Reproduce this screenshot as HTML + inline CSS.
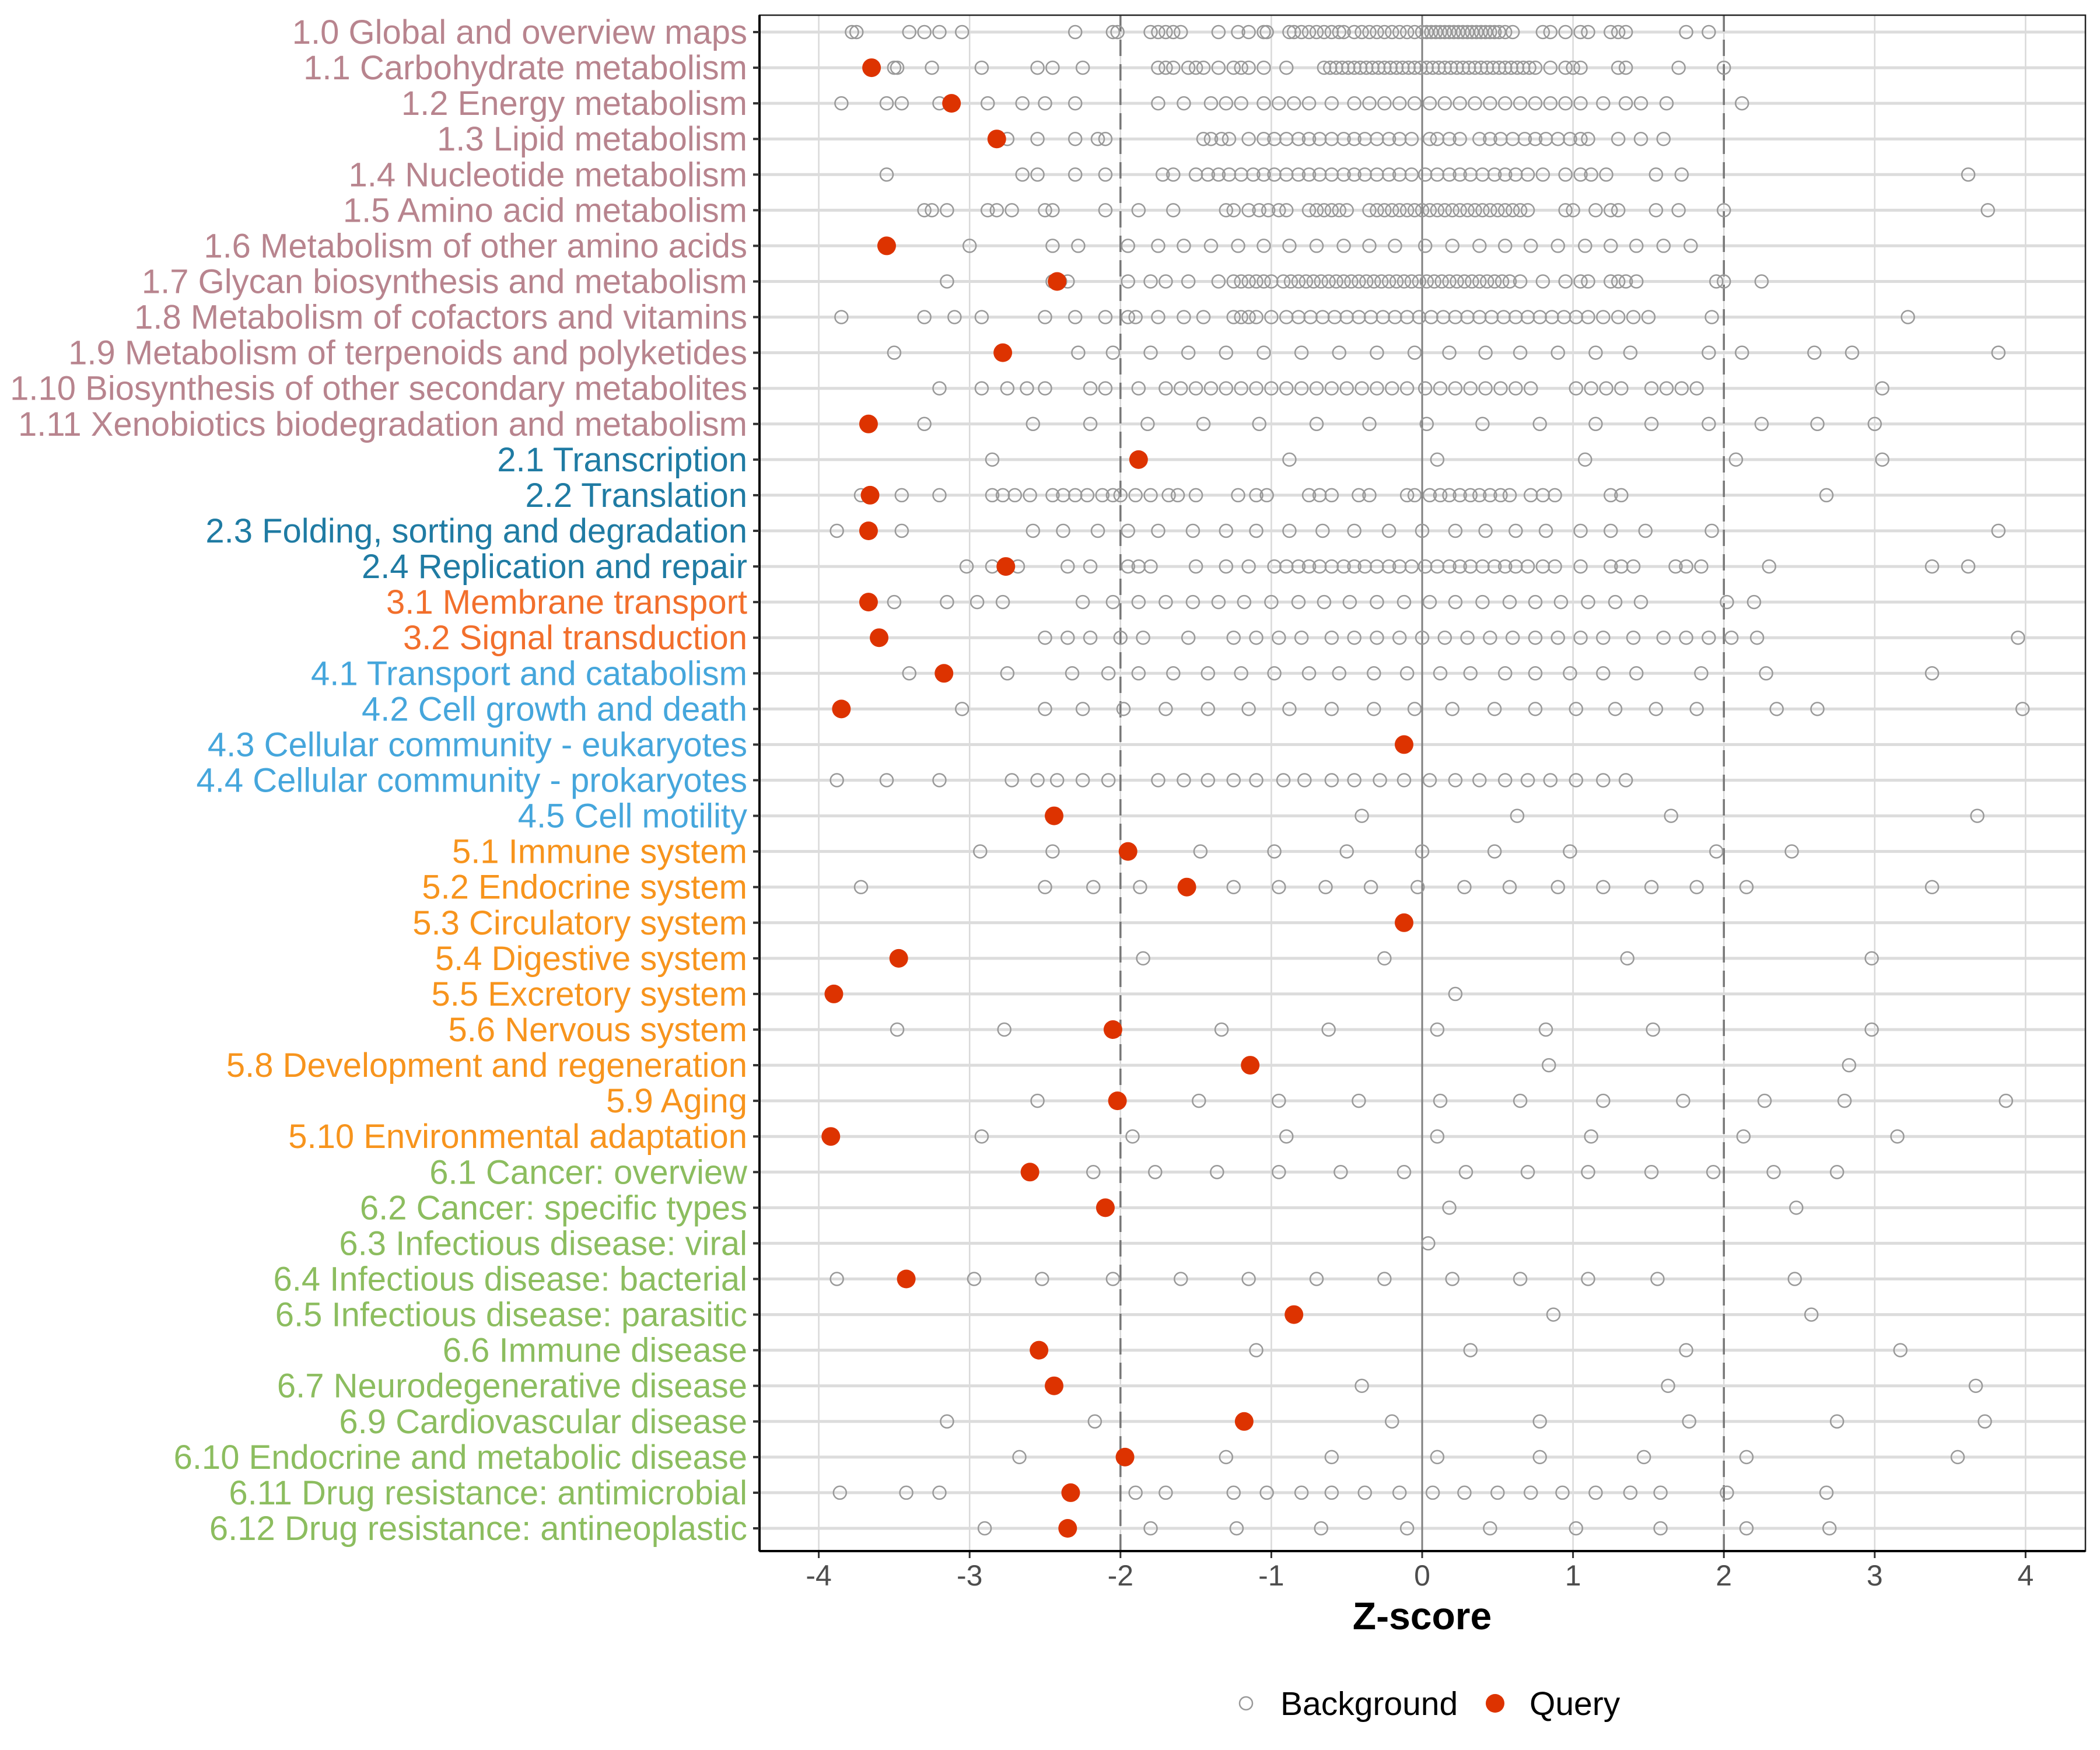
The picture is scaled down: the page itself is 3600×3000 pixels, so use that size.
<!DOCTYPE html>
<html><head><meta charset="utf-8">
<style>
html,body{margin:0;padding:0;background:#fff;}
svg{display:block;font-family:"Liberation Sans",Arial,sans-serif;}
</style></head>
<body>
<svg id="chart" width="3600" height="3000" viewBox="0 0 3600 3000" xmlns="http://www.w3.org/2000/svg">
<rect x="0" y="0" width="3600" height="3000" fill="#fff"/>
<g id="grid"></g>
<g id="marks"></g>
<g id="yaxis"></g>
<g id="xaxis"></g>
<text x="2438" y="2793" text-anchor="middle" font-size="66" font-weight="bold" fill="#000">Z-score</text>
<g>
 <g>
  <circle cx="2136" cy="2920" r="11" fill="none" stroke="#999" stroke-width="2.5"/>
  <text x="2195" y="2940" font-size="57" fill="#000">Background</text>
 </g>
 <g>
  <circle cx="2563" cy="2920" r="16" fill="#dd3300"/>
  <text x="2622" y="2940" font-size="57" fill="#000">Query</text>
 </g>
</g>
</svg>
<script>
const categories = ["1.0 Global and overview maps","1.1 Carbohydrate metabolism","1.2 Energy metabolism","1.3 Lipid metabolism","1.4 Nucleotide metabolism","1.5 Amino acid metabolism","1.6 Metabolism of other amino acids","1.7 Glycan biosynthesis and metabolism","1.8 Metabolism of cofactors and vitamins","1.9 Metabolism of terpenoids and polyketides","1.10 Biosynthesis of other secondary metabolites","1.11 Xenobiotics biodegradation and metabolism","2.1 Transcription","2.2 Translation","2.3 Folding, sorting and degradation","2.4 Replication and repair","3.1 Membrane transport","3.2 Signal transduction","4.1 Transport and catabolism","4.2 Cell growth and death","4.3 Cellular community - eukaryotes","4.4 Cellular community - prokaryotes","4.5 Cell motility","5.1 Immune system","5.2 Endocrine system","5.3 Circulatory system","5.4 Digestive system","5.5 Excretory system","5.6 Nervous system","5.8 Development and regeneration","5.9 Aging","5.10 Environmental adaptation","6.1 Cancer: overview","6.2 Cancer: specific types","6.3 Infectious disease: viral","6.4 Infectious disease: bacterial","6.5 Infectious disease: parasitic","6.6 Immune disease","6.7 Neurodegenerative disease","6.9 Cardiovascular disease","6.10 Endocrine and metabolic disease","6.11 Drug resistance: antimicrobial","6.12 Drug resistance: antineoplastic"];
const queryValues = [null,-3.65,-3.12,-2.82,null,null,-3.55,-2.42,null,-2.78,null,-3.67,-1.88,-3.66,-3.67,-2.76,-3.67,-3.6,-3.17,-3.85,-0.12,null,-2.44,-1.95,-1.56,-0.12,-3.47,-3.9,-2.05,-1.14,-2.02,-3.92,-2.6,-2.1,null,-3.42,-0.85,-2.54,-2.44,-1.18,-1.97,-2.33,-2.35];
const backgroundValues = [
[-3.78,-3.75,-3.4,-3.3,-3.2,-3.05,-2.3,-2.05,-2.02,-1.8,-1.75,-1.7,-1.65,-1.6,-1.35,-1.22,-1.15,-1.05,-1.03,-0.88,-0.85,-0.8,-0.75,-0.7,-0.65,-0.6,-0.55,-0.52,-0.45,-0.4,-0.35,-0.3,-0.25,-0.2,-0.15,-0.1,-0.05,0,0.03,0.06,0.09,0.12,0.15,0.18,0.21,0.24,0.27,0.3,0.33,0.36,0.39,0.42,0.45,0.48,0.51,0.55,0.6,0.8,0.85,0.95,1.05,1.1,1.25,1.3,1.35,1.75,1.9],
[-3.5,-3.48,-3.25,-2.92,-2.55,-2.45,-2.25,-1.75,-1.7,-1.65,-1.55,-1.5,-1.45,-1.35,-1.25,-1.2,-1.15,-1.05,-0.9,-0.65,-0.61,-0.57,-0.53,-0.49,-0.45,-0.41,-0.37,-0.33,-0.29,-0.25,-0.21,-0.17,-0.13,-0.09,-0.05,-0.01,0.03,0.07,0.11,0.15,0.19,0.23,0.27,0.31,0.35,0.39,0.43,0.47,0.51,0.55,0.59,0.63,0.67,0.71,0.75,0.85,0.95,1.0,1.05,1.3,1.35,1.7,2.0],
[-3.85,-3.55,-3.45,-3.2,-2.88,-2.65,-2.5,-2.3,-1.75,-1.58,-1.4,-1.3,-1.2,-1.05,-0.95,-0.85,-0.75,-0.6,-0.45,-0.35,-0.25,-0.15,-0.05,0.05,0.15,0.25,0.35,0.45,0.55,0.65,0.75,0.85,0.95,1.05,1.2,1.35,1.45,1.62,2.12],
[-2.75,-2.55,-2.3,-2.15,-2.1,-1.45,-1.4,-1.33,-1.28,-1.15,-1.05,-0.98,-0.9,-0.82,-0.75,-0.68,-0.6,-0.52,-0.45,-0.38,-0.3,-0.22,-0.15,-0.07,0.05,0.1,0.18,0.25,0.38,0.45,0.52,0.6,0.68,0.75,0.82,0.9,0.98,1.05,1.1,1.3,1.45,1.6],
[-3.55,-2.65,-2.55,-2.3,-2.1,-1.72,-1.65,-1.5,-1.42,-1.35,-1.28,-1.2,-1.12,-1.05,-0.98,-0.9,-0.82,-0.75,-0.68,-0.6,-0.52,-0.45,-0.38,-0.3,-0.22,-0.15,-0.07,0.02,0.1,0.18,0.25,0.32,0.4,0.48,0.55,0.62,0.7,0.8,0.95,1.05,1.12,1.22,1.55,1.72,3.62],
[-3.3,-3.25,-3.15,-2.88,-2.82,-2.72,-2.5,-2.45,-2.1,-1.88,-1.65,-1.3,-1.25,-1.15,-1.08,-1.02,-0.95,-0.9,-0.75,-0.7,-0.65,-0.6,-0.55,-0.5,-0.35,-0.3,-0.25,-0.2,-0.15,-0.1,-0.05,0,0.05,0.1,0.15,0.2,0.25,0.3,0.35,0.4,0.45,0.5,0.55,0.6,0.65,0.7,0.95,1.0,1.15,1.25,1.3,1.55,1.7,2.0,3.75],
[-3.0,-2.45,-2.28,-1.95,-1.75,-1.58,-1.4,-1.22,-1.05,-0.88,-0.7,-0.52,-0.35,-0.18,0.02,0.2,0.38,0.55,0.72,0.9,1.08,1.25,1.42,1.6,1.78],
[-3.15,-2.45,-2.4,-2.35,-1.95,-1.8,-1.7,-1.55,-1.35,-1.25,-1.2,-1.15,-1.1,-1.05,-1.0,-0.92,-0.87,-0.82,-0.77,-0.72,-0.67,-0.62,-0.57,-0.52,-0.47,-0.42,-0.37,-0.32,-0.27,-0.22,-0.17,-0.12,-0.07,-0.02,0.03,0.08,0.13,0.18,0.23,0.28,0.33,0.38,0.43,0.48,0.53,0.58,0.65,0.8,0.95,1.05,1.1,1.25,1.3,1.35,1.42,1.95,2.0,2.25],
[-3.85,-3.3,-3.1,-2.92,-2.5,-2.3,-2.1,-1.95,-1.9,-1.75,-1.58,-1.45,-1.25,-1.2,-1.15,-1.1,-1.0,-0.9,-0.82,-0.74,-0.66,-0.58,-0.5,-0.42,-0.34,-0.26,-0.18,-0.1,-0.02,0.06,0.14,0.22,0.3,0.38,0.46,0.54,0.62,0.7,0.78,0.86,0.94,1.02,1.1,1.2,1.3,1.4,1.5,1.92,3.22],
[-3.5,-2.28,-2.05,-1.8,-1.55,-1.3,-1.05,-0.8,-0.55,-0.3,-0.05,0.18,0.42,0.65,0.9,1.15,1.38,1.9,2.12,2.6,2.85,3.82],
[-3.2,-2.92,-2.75,-2.62,-2.5,-2.2,-2.1,-1.88,-1.7,-1.6,-1.5,-1.4,-1.3,-1.2,-1.1,-1.0,-0.9,-0.8,-0.7,-0.6,-0.5,-0.4,-0.3,-0.2,-0.1,0.02,0.12,0.22,0.32,0.42,0.52,0.62,0.72,1.02,1.12,1.22,1.32,1.52,1.62,1.72,1.82,3.05],
[-3.3,-2.58,-2.2,-1.82,-1.45,-1.08,-0.7,-0.35,0.03,0.4,0.78,1.15,1.52,1.9,2.25,2.62,3.0],
[-2.85,-0.88,0.1,1.08,2.08,3.05],
[-3.72,-3.45,-3.2,-2.85,-2.78,-2.7,-2.6,-2.45,-2.38,-2.3,-2.22,-2.12,-2.05,-2.0,-1.9,-1.8,-1.68,-1.62,-1.5,-1.22,-1.1,-1.03,-0.75,-0.68,-0.6,-0.42,-0.35,-0.1,-0.05,0.05,0.12,0.18,0.25,0.32,0.38,0.45,0.52,0.58,0.72,0.8,0.88,1.25,1.32,2.68],
[-3.88,-3.45,-2.58,-2.38,-2.15,-1.95,-1.75,-1.52,-1.3,-1.1,-0.88,-0.66,-0.45,-0.22,0.0,0.22,0.42,0.62,0.82,1.05,1.25,1.48,1.92,3.82],
[-3.02,-2.85,-2.68,-2.35,-2.2,-1.95,-1.88,-1.8,-1.5,-1.3,-1.15,-0.98,-0.9,-0.82,-0.75,-0.68,-0.6,-0.52,-0.45,-0.38,-0.3,-0.22,-0.15,-0.07,0.02,0.1,0.18,0.25,0.32,0.4,0.48,0.55,0.62,0.7,0.8,0.88,1.05,1.25,1.32,1.4,1.68,1.75,1.85,2.3,3.38,3.62],
[-3.5,-3.15,-2.95,-2.78,-2.25,-2.05,-1.88,-1.7,-1.52,-1.35,-1.18,-1.0,-0.82,-0.65,-0.48,-0.3,-0.12,0.05,0.22,0.4,0.58,0.75,0.92,1.1,1.28,1.45,2.02,2.2],
[-2.5,-2.35,-2.2,-2.0,-1.85,-1.55,-1.25,-1.1,-0.95,-0.8,-0.6,-0.45,-0.3,-0.15,0.0,0.15,0.3,0.45,0.6,0.75,0.9,1.05,1.2,1.4,1.6,1.75,1.9,2.05,2.22,3.95],
[-3.4,-2.75,-2.32,-2.08,-1.88,-1.65,-1.42,-1.2,-0.98,-0.75,-0.55,-0.32,-0.1,0.12,0.32,0.55,0.75,0.98,1.2,1.42,1.85,2.28,3.38],
[-3.05,-2.5,-2.25,-1.98,-1.7,-1.42,-1.15,-0.88,-0.6,-0.32,-0.05,0.2,0.48,0.75,1.02,1.28,1.55,1.82,2.35,2.62,3.98],
[],
[-3.88,-3.55,-3.2,-2.72,-2.55,-2.42,-2.25,-2.08,-1.75,-1.58,-1.42,-1.25,-1.1,-0.92,-0.78,-0.6,-0.45,-0.28,-0.12,0.05,0.22,0.38,0.55,0.7,0.85,1.02,1.2,1.35],
[-0.4,0.63,1.65,3.68],
[-2.93,-2.45,-1.47,-0.98,-0.5,0.0,0.48,0.98,1.95,2.45],
[-3.72,-2.5,-2.18,-1.87,-1.25,-0.95,-0.64,-0.34,-0.03,0.28,0.58,0.9,1.2,1.52,1.82,2.15,3.38],
[],
[-1.85,-0.25,1.36,2.98],
[0.22],
[-3.48,-2.77,-1.33,-0.62,0.1,0.82,1.53,2.98],
[0.84,2.83],
[-2.55,-1.48,-0.95,-0.42,0.12,0.65,1.2,1.73,2.27,2.8,3.87],
[-2.92,-1.92,-0.9,0.1,1.12,2.13,3.15],
[-2.18,-1.77,-1.36,-0.95,-0.54,-0.12,0.29,0.7,1.1,1.52,1.93,2.33,2.75],
[0.18,2.48],
[0.04],
[-3.88,-2.97,-2.52,-2.05,-1.6,-1.15,-0.7,-0.25,0.2,0.65,1.1,1.56,2.47],
[0.87,2.58],
[-1.1,0.32,1.75,3.17],
[-0.4,1.63,3.67],
[-3.15,-2.17,-0.2,0.78,1.77,2.75,3.73],
[-2.67,-1.3,-0.6,0.1,0.78,1.47,2.15,3.55],
[-3.86,-3.42,-3.2,-1.9,-1.7,-1.25,-1.03,-0.8,-0.6,-0.38,-0.15,0.07,0.28,0.5,0.72,0.93,1.15,1.38,1.58,2.02,2.68],
[-2.9,-1.8,-1.23,-0.67,-0.1,0.45,1.02,1.58,2.15,2.7]
];
const xTicks = [-4,-3,-2,-1,0,1,2,3,4];
const xTickLabels = ["-4","-3","-2","-1","0","1","2","3","4"];
const thresholds = [-2,2];
const groupColors = {"1":"#b8848e","2":"#1f7ba3","3":"#f26f2c","4":"#45a6dc","5":"#f7941d","6":"#8cbd5f"};

const NS="http://www.w3.org/2000/svg";
const L=1302,R=3575,T=26,B=2659;
const X0=2438,UNIT=258.6;
const Y0=55,DY=(2620-55)/42;
function xs(v){return X0+v*UNIT;}
function ys(i){return Y0+i*DY;}
function mk(tag,attrs,parent){const e=document.createElementNS(NS,tag);for(const k in attrs)e.setAttribute(k,attrs[k]);parent.appendChild(e);return e;}
const grid=document.getElementById('grid'),marks=document.getElementById('marks'),yaxis=document.getElementById('yaxis'),xaxis=document.getElementById('xaxis');

xTicks.forEach((t,i)=>{
  const g=mk('line',{x1:xs(t),x2:xs(t),y1:T,y2:B,stroke:'#d9d9d9','stroke-width':2.5},grid);
  
  
  const tk=mk('line',{x1:xs(t),x2:xs(t),y1:B,y2:B+12,stroke:'#333','stroke-width':3},xaxis);
  
  
  const tl=mk('text',{x:xs(t),y:2718,'text-anchor':'middle','font-size':50,fill:'#4d4d4d'},xaxis);
  tl.textContent=xTickLabels[i];
  
  
});
categories.forEach((c,i)=>{
  const g=mk('line',{x1:L,x2:R,y1:ys(i),y2:ys(i),stroke:'#dcdcdc','stroke-width':5},grid);
  
  
});
const zl=mk('line',{x1:xs(0),x2:xs(0),y1:T,y2:B,stroke:'#7f7f7f','stroke-width':3},grid);


thresholds.forEach(t=>{
  const d=mk('line',{x1:xs(t),x2:xs(t),y1:T,y2:B,stroke:'#777','stroke-width':3.5,'stroke-dasharray':'28,14'},grid);
  
  
});
categories.forEach((c,i)=>{
  (backgroundValues[i]||[]).forEach(v=>{
    const p=mk('circle',{cx:xs(v),cy:ys(i),r:11,fill:'none',stroke:'#999','stroke-width':2.5},marks);
    
    
  });
});
categories.forEach((c,i)=>{
  if(queryValues[i]!==null){
    const p=mk('circle',{cx:xs(queryValues[i]),cy:ys(i),r:16,fill:'#dd3300'},marks);
    
    
  }
});
const frame=mk('rect',{x:L,y:T,width:R-L,height:B-T,fill:'none',stroke:'#222','stroke-width':2.5},yaxis);


const ax=mk('line',{x1:L,x2:L,y1:T,y2:B,stroke:'#000','stroke-width':4},yaxis);


const bx=mk('line',{x1:L,x2:R,y1:B,y2:B,stroke:'#000','stroke-width':4},xaxis);


categories.forEach((c,i)=>{
  const tk=mk('line',{x1:L-11,x2:L,y1:ys(i),y2:ys(i),stroke:'#333','stroke-width':4},yaxis);
  
  
  const t=mk('text',{x:1281,y:ys(i)+20,'text-anchor':'end','font-size':58,fill:groupColors[c[0]]},yaxis);
  t.textContent=c;
  
  
});
</script>
</body></html>
